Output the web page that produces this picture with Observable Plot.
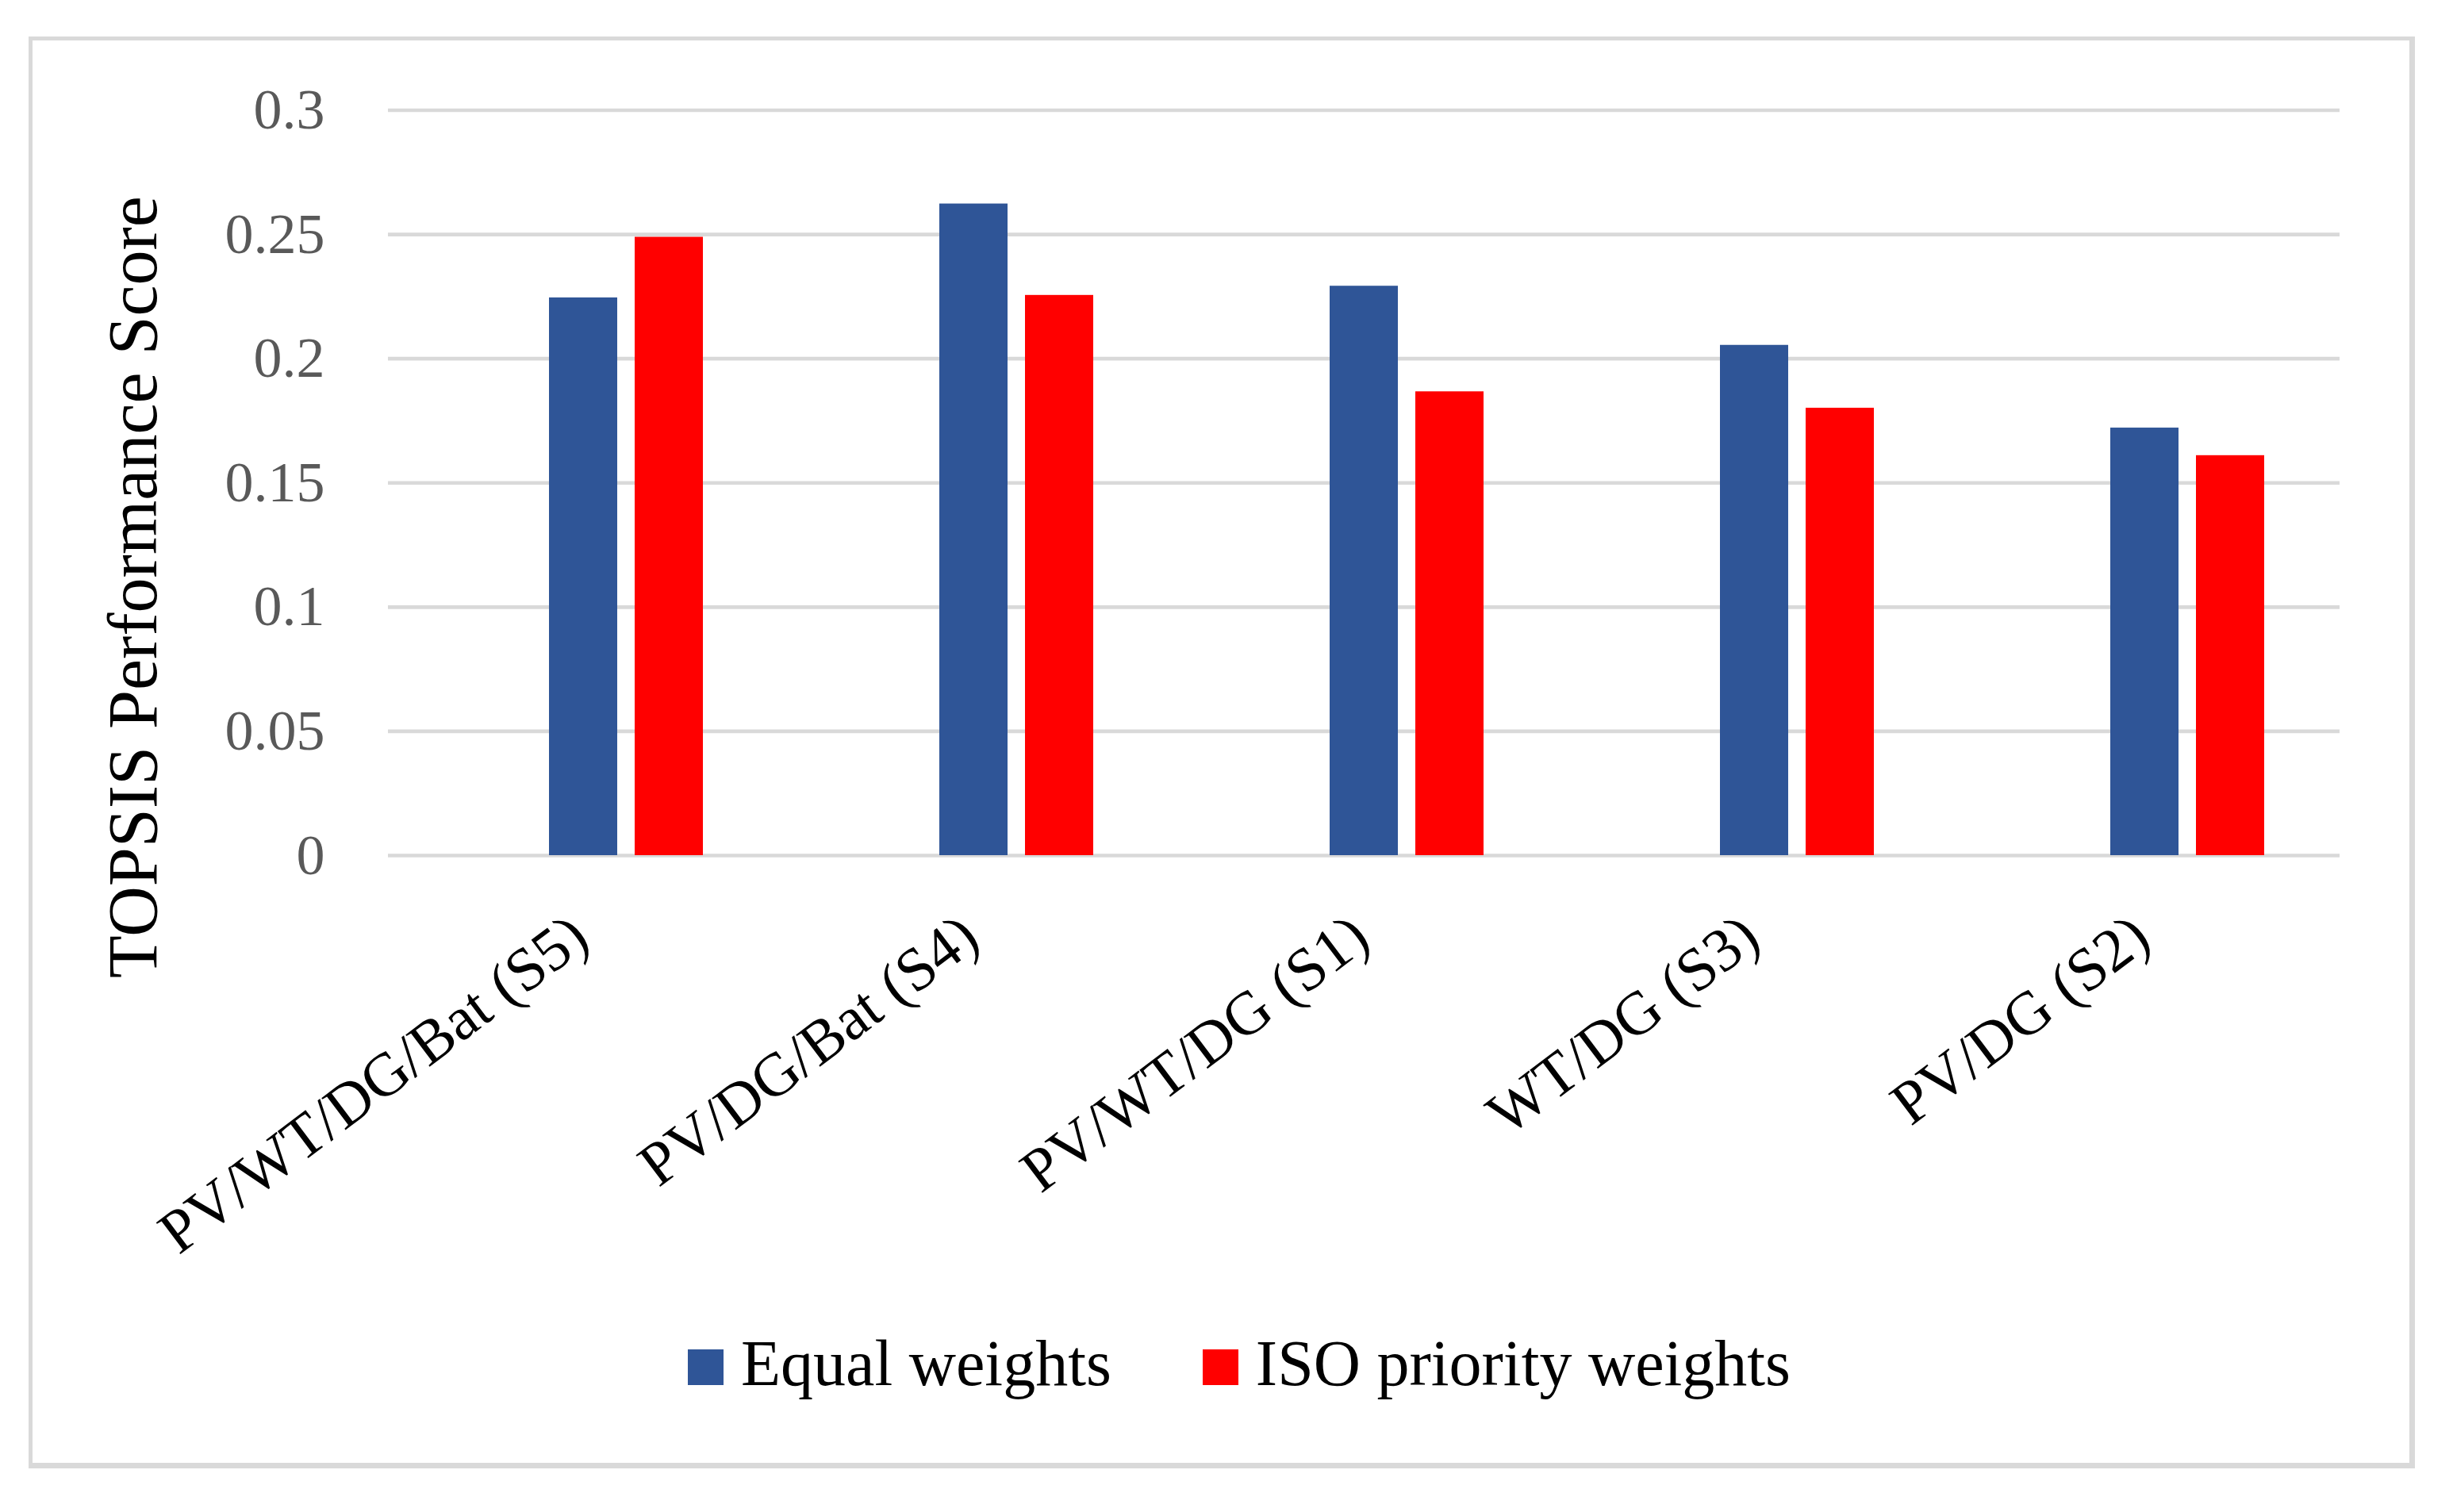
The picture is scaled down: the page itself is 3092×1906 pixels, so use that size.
<!DOCTYPE html>
<html>
<head>
<meta charset="utf-8">
<script src="https://cdn.jsdelivr.net/npm/d3@7"></script>
<script src="https://cdn.jsdelivr.net/npm/@observablehq/plot@0.6"></script>
<style>
  html, body { margin: 0; padding: 0; background: #ffffff; }
  #wrap { position: relative; width: 3092px; height: 1906px; overflow: hidden; font-family: "Liberation Serif", serif; }
  #frame { position: absolute; left: 36px; top: 46px; width: 2996px; height: 1793px; border-style: solid; border-color: #d9d9d9; border-width: 5px 7px 7px 5px; pointer-events: none; }
  #chart { position: absolute; left: 0; top: 0; }
  #ytitle { position: absolute; left: 168px; top: 740px; width: 0; height: 0; }
  #ytitle span { position: absolute; left: 0; top: 0; white-space: nowrap; font-size: 88px; line-height: 1; color: #000; transform: translate(-50%, -50%) rotate(-90deg); }
  #legend { position: absolute; left: 0; width: 3124px; top: 1678px; display: flex; justify-content: center; align-items: baseline; font-size: 82px; line-height: 1; color: #000; }
  .item { display: flex; align-items: baseline; }
  .sw { display: inline-block; width: 45px; height: 45px; margin-right: 22px; }
  .item + .item { margin-left: 115px; }
</style>
</head>
<body>
<div id="wrap">
  <div id="chart"></div>
  <div id="ytitle"><span>TOPSIS Performance Score</span></div>
  <div id="legend"></div>
  <div id="frame"></div>
</div>
<script>
// ---- data ----
const categories = ["PV/WT/DG/Bat (S5)", "PV/DG/Bat (S4)", "PV/WT/DG (S1)", "WT/DG (S3)", "PV/DG (S2)"];
const seriesNames = ["Equal weights", "ISO priority weights"];
const equalWeights = [0.2245, 0.2623, 0.2292, 0.2054, 0.1721];
const isoWeights = [0.2489, 0.2255, 0.1867, 0.1801, 0.1610];
const yTicks = [0, 0.05, 0.1, 0.15, 0.2, 0.25, 0.3];
const seriesColors = ["#2f5597", "#ff0000"];

// table built from the arrays
const rows = [];
categories.forEach((c, i) => {
  rows.push({scenario: c, series: seriesNames[0], value: equalWeights[i]});
  rows.push({scenario: c, series: seriesNames[1], value: isoWeights[i]});
});

// Excel cluster has an empty leading slot, so the pair sits right of centre
const slotDomain = ["\u00a0", ...seriesNames];

const W = 3092, H = 1650;
const chart = Plot.plot({
  width: W,
  height: H,
  marginLeft: 487,
  marginRight: 142,
  marginTop: 138.5,
  marginBottom: H - 1078,
  style: {background: "transparent", fontFamily: "Liberation Serif, serif", overflow: "visible"},
  fx: {domain: categories, padding: 0, label: null, axis: null},
  x: {domain: slotDomain, paddingInner: 0.2018, paddingOuter: 0.86, axis: null},
  y: {domain: [0, 0.3], axis: null},
  color: {domain: seriesNames, range: seriesColors},
  marks: [
    Plot.gridY(yTicks, {stroke: "#d9d9d9", strokeWidth: 4.6, strokeOpacity: 1}),
    Plot.barY(rows, {fx: "scenario", x: "series", y: "value", fill: "series", inset: 0}),
    Plot.axisY(yTicks, {
      anchor: "left", tickSize: 0, tickPadding: 80, fontSize: 72, color: "#595959",
      tickFormat: d => String(+d.toFixed(2)), label: null
    }),
    Plot.axisFx({
      anchor: "bottom", tickSize: 0, tickPadding: 92, tickRotate: -37, fontSize: 77,
      color: "#000", label: null, dx: -4
    })
  ]
});
document.getElementById("chart").appendChild(chart);

// legend (HTML, below the svg area)
const legend = document.getElementById("legend");
seriesNames.forEach((name, i) => {
  const item = document.createElement("div");
  item.className = "item";
  const sw = document.createElement("span");
  sw.className = "sw";
  sw.style.background = seriesColors[i];
  const t = document.createElement("span");
  t.textContent = name;
  item.appendChild(sw);
  item.appendChild(t);
  legend.appendChild(item);
});
</script>
</body>
</html>
